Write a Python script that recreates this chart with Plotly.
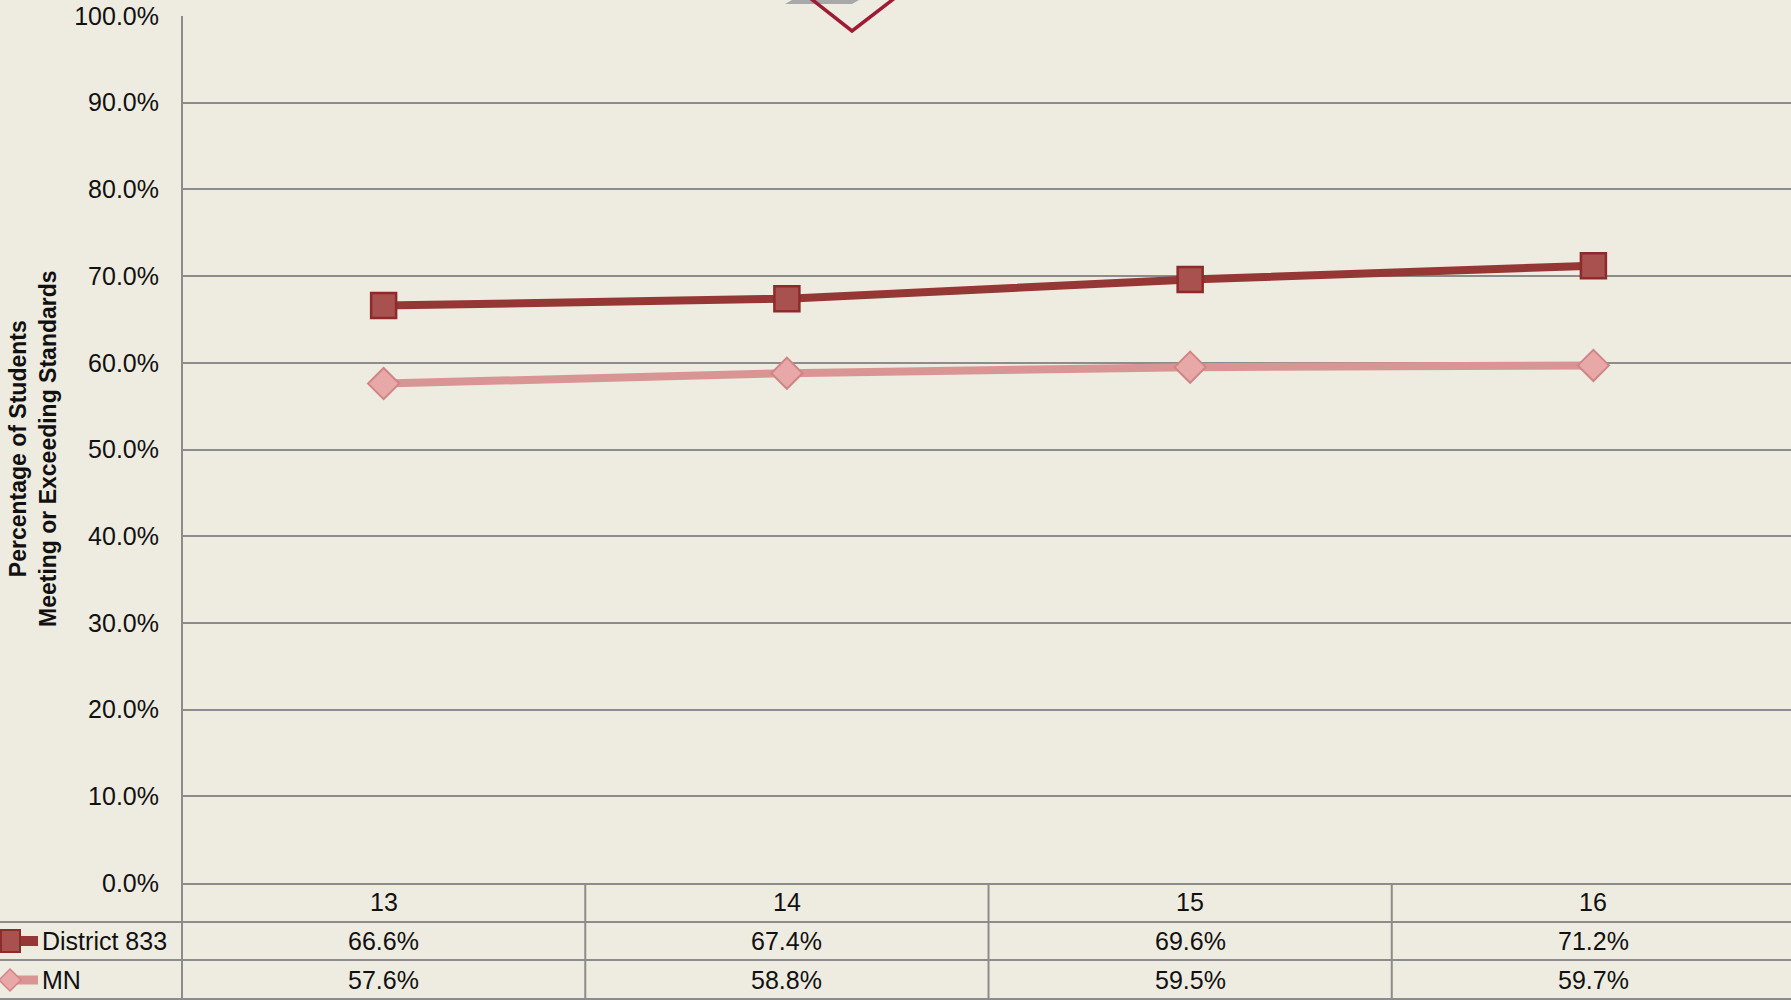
import plotly.graph_objects as go

# ---- data ----
categories = ["13", "14", "15", "16"]
district_833 = [66.6, 67.4, 69.6, 71.2]
mn = [57.6, 58.8, 59.5, 59.7]
series_names = ["District 833", "MN"]
y_ticks = [0, 10, 20, 30, 40, 50, 60, 70, 80, 90, 100]
y_title = "Percentage of Students<br>Meeting or Exceeding Standards"

# ---- layout geometry (pixels) ----
W, H = 1791, 1000
L, R, T, B = 182, 0, 16, 117
PW, PH = W - L - R, H - T - B

def px(x):
    return (x - L) / PW

def py(y):
    return (H - B - y) / PH

BG = "#EEEBE0"
GRID = "#8C8C8C"
TXT = "#111111"
D_LINE, D_FILL, D_EDGE = "#953735", "#A9514F", "#8C2B2A"
M_LINE, M_FILL, M_EDGE = "#D99594", "#E8A8A8", "#D08584"
FONT = "Liberation Sans, Arial, sans-serif"
FS = 25

fig = go.Figure()
fig.add_trace(go.Scatter(
    x=categories, y=district_833, mode="lines+markers", name=series_names[0],
    line=dict(color=D_LINE, width=8),
    marker=dict(symbol="square", size=25, color=D_FILL, line=dict(color=D_EDGE, width=2.5)),
    hoverinfo="skip",
))
fig.add_trace(go.Scatter(
    x=categories, y=mn, mode="lines+markers", name=series_names[1],
    line=dict(color=M_LINE, width=8),
    marker=dict(symbol="diamond", size=24, color=M_FILL, line=dict(color=M_EDGE, width=2)),
    hoverinfo="skip",
))

shapes = []
annotations = []

# axis vertical line through table
shapes.append(dict(type="line", xref="paper", yref="paper", x0=px(182), x1=px(182),
                   y0=py(16), y1=py(1002), line=dict(color=GRID, width=2)))
# table horizontal lines
for yy in [922, 960, 999]:
    shapes.append(dict(type="line", xref="paper", yref="paper", x0=px(-2), x1=px(W + 5),
                       y0=py(yy), y1=py(yy), line=dict(color=GRID, width=2)))
# column separators
for i in range(len(categories) - 1):
    shapes.append(dict(type="line", xref="x", yref="paper", x0=i + 0.5, x1=i + 0.5,
                       y0=py(883), y1=py(1002), line=dict(color=GRID, width=2)))

row_cat, row_d, row_m = 902, 941, 980
tfont = dict(size=FS, color=TXT, family=FONT)
for i, c in enumerate(categories):
    annotations.append(dict(x=i, y=py(row_cat), xref="x", yref="paper", text=c,
                            xanchor="center", yanchor="middle", showarrow=False, font=tfont))
    annotations.append(dict(x=i, y=py(row_d), xref="x", yref="paper", text=f"{district_833[i]:.1f}%",
                            xanchor="center", yanchor="middle", showarrow=False, font=tfont))
    annotations.append(dict(x=i, y=py(row_m), xref="x", yref="paper", text=f"{mn[i]:.1f}%",
                            xanchor="center", yanchor="middle", showarrow=False, font=tfont))

# legend keys in table
shapes.append(dict(type="line", xref="paper", yref="paper", x0=px(14), x1=px(38),
                   y0=py(row_d), y1=py(row_d), line=dict(color=D_LINE, width=10)))
shapes.append(dict(type="rect", xref="paper", yref="paper", x0=px(1), x1=px(20),
                   y0=py(row_d + 11), y1=py(row_d - 11), fillcolor=D_FILL, line=dict(color=D_EDGE, width=2)))
shapes.append(dict(type="line", xref="paper", yref="paper", x0=px(14), x1=px(38),
                   y0=py(row_m), y1=py(row_m), line=dict(color=M_LINE, width=9)))
shapes.append(dict(type="path", xref="paper", yref="paper",
                   path=f"M {px(-1)},{py(row_m)} L {px(10)},{py(row_m - 11)} L {px(21)},{py(row_m)} L {px(10)},{py(row_m + 11)} Z",
                   fillcolor=M_FILL, line=dict(color=M_EDGE, width=1.5)))
annotations.append(dict(x=px(40), y=py(row_d), xref="paper", yref="paper", text=series_names[0],
                        xanchor="left", yanchor="middle", showarrow=False, font=tfont))
annotations.append(dict(x=px(40), y=py(row_m), xref="paper", yref="paper", text=series_names[1],
                        xanchor="left", yanchor="middle", showarrow=False, font=tfont))

# y-axis title
annotations.append(dict(x=px(33), y=py(449), xref="paper", yref="paper", text=y_title,
                        textangle=-90, showarrow=False, align="center",
                        xanchor="center", yanchor="middle",
                        font=dict(size=23, color=TXT, family=FONT, weight="bold")))

# cropped decoration at top
shapes.append(dict(type="path", xref="paper", yref="paper",
                   path=f"M {px(785)},{py(4)} L {px(852)},{py(4)} L {px(866)},{py(-4)} L {px(799)},{py(-4)} Z",
                   fillcolor="#A8A8A8", line=dict(color="#A8A8A8", width=0), layer="above"))
shapes.append(dict(type="path", xref="paper", yref="paper",
                   path=f"M {px(805)},{py(-6)} L {px(852)},{py(31)} L {px(900)},{py(-6)}",
                   line=dict(color="#9E1B34", width=3.5), layer="above"))

fig.update_layout(
    width=W, height=H,
    margin=dict(l=L, r=R, t=T, b=B, pad=0),
    paper_bgcolor=BG, plot_bgcolor=BG,
    showlegend=False,
    font=dict(family=FONT, color=TXT),
    shapes=shapes, annotations=annotations,
    xaxis=dict(type="category", range=[-0.5, len(categories) - 0.51], showticklabels=False,
               showgrid=False, zeroline=False, showline=True, linecolor=GRID, linewidth=2, ticks=""),
    yaxis=dict(range=[0, 100], tickvals=y_ticks, ticktext=[f"{v:.1f}%" for v in y_ticks],
               showgrid=True, gridcolor=GRID, gridwidth=2, zeroline=False, showline=False,
               ticks="", ticklabelstandoff=22, tickfont=dict(size=FS, color=TXT, family=FONT)),
)

fig.write_html(
    "out.html",
    config={"displayModeBar": False},
    post_script="document.body.style.margin='0';document.body.style.padding='0';"
                "document.documentElement.style.overflow='hidden';document.body.style.background='" + BG + "';",
)
